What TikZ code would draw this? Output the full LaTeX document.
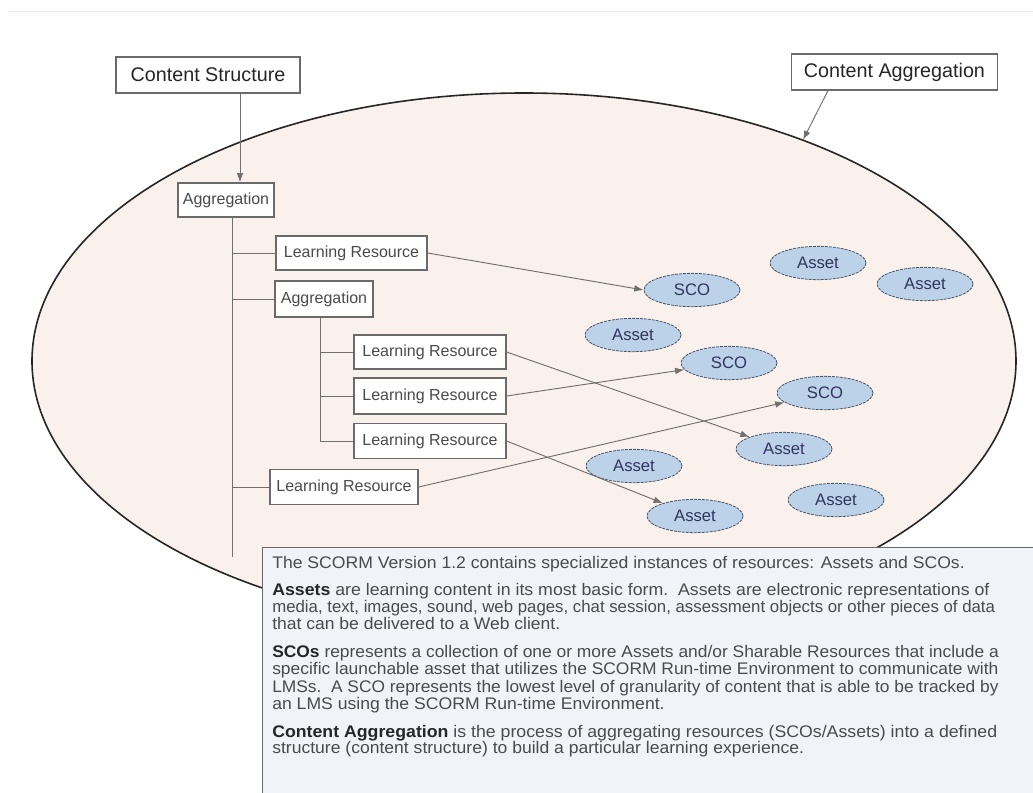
\documentclass[tikz,border=0pt]{standalone}
\usepackage{graphicx}
\usepackage{fontspec}
\setmainfont{Liberation Sans}
\usetikzlibrary{arrows.meta,shapes.geometric}
\definecolor{ellfill}{HTML}{FBF1EC}
\definecolor{bluefill}{HTML}{BCD2E8}
\definecolor{blueline}{HTML}{4A5568}
\definecolor{boxfill}{HTML}{F0F4F8}
\definecolor{boxline}{HTML}{6A6A6A}
\definecolor{linegray}{HTML}{707070}
\definecolor{txtgray}{HTML}{4A4A4A}
\newcommand{\wide}[2]{\scalebox{#1}[1]{#2}}
\begin{document}
\begin{tikzpicture}[x=0.75pt,y=-0.75pt,
  rbox/.style={draw=boxline, fill=white, line width=0.9pt, inner sep=0pt, text=txtgray,
    font=\fontsize{12pt}{14pt}\selectfont},
  bigbox/.style={rbox, text=black!85, font=\fontsize{14.8pt}{16pt}\selectfont, minimum height=27pt},
  lrbox/.style={rbox, minimum width=114pt, minimum height=25.5pt},
  blob/.style={ellipse, draw=blueline, dash pattern=on 2.2pt off 0.8pt, line width=0.6pt,
    fill=bluefill, inner sep=0pt, minimum width=72pt, minimum height=25pt,
    text=black!70!blue!60!gray, font=\fontsize{12.5pt}{14pt}\selectfont},
  conn/.style={draw=linegray, line width=0.7pt},
  arr/.style={conn, -{Latex[length=7pt,width=5pt]}},
  desc/.style={anchor=base west, inner sep=0pt, text=txtgray, font=\fontsize{12.6pt}{13pt}\selectfont}
]
\useasboundingbox (0,0) rectangle (1033,793);
\fill[white] (0,0) rectangle (1033,793);
\draw[black!8, line width=0.6pt] (8,11) -- (1033,11);

% big ellipse
\draw[fill=ellfill, draw=black!85, line width=1.2pt] (524,361) ellipse [x radius=369pt, y radius=201pt];

% top labels
\node[bigbox, minimum width=138pt] (cs) at (208,75) {Content Structure};
\node[bigbox, minimum width=154.5pt] (ca) at (894.5,72) {Content Aggregation};
\coordinate (catip) at (803,140);

% tree boxes
\node[rbox, minimum width=72pt, minimum height=25.5pt] (agg1) at (226,200) {Aggregation};
\node[lrbox, minimum width=113.25pt] (lr1) at (351.5,253) {Learning Resource};
\node[rbox, minimum width=73.5pt, minimum height=27pt] (agg2) at (324,299) {Aggregation};
\node[lrbox] (lr2) at (430,352) {Learning Resource};
\node[lrbox, minimum height=27pt] (lr3) at (430,396) {Learning Resource};
\node[lrbox, minimum height=26pt] (lr4) at (430,441) {Learning Resource};
\node[lrbox, minimum width=111pt, minimum height=26pt] (lr5) at (344,487) {Learning Resource};
\coordinate (trunkend) at (232,557);

% SCOs and Assets
\node[blob] (sco1) at (692,290) {SCO};
\node[blob] (sco2) at (729,363) {SCO};
\node[blob] (sco3) at (825,393) {SCO};
\node[blob] (a1) at (818,263) {Asset};
\node[blob] (a2) at (925,284) {Asset};
\node[blob] (a3) at (633,335) {Asset};
\node[blob] (a4) at (784,449) {Asset};
\node[blob] (a5) at (634,466) {Asset};
\node[blob] (a6) at (836,500) {Asset};
\node[blob] (a7) at (695,516) {Asset};

% arrows from labels
\draw[arr] ([xshift=24pt]cs.south) -- ([xshift=10.5pt]agg1.north);
\draw[arr] ([xshift=-49.9pt]ca.south) -- (catip);

% tree connectors
\draw[conn] ([xshift=4.5pt]agg1.south) -- (trunkend);
\draw[conn] (trunkend |- lr1.west) -- (lr1.west);
\draw[conn] (trunkend |- agg2.west) -- (agg2.west);
\draw[conn] (trunkend |- lr5.west) -- (lr5.west);
\draw[conn] ([xshift=-3pt]agg2.south) |- (lr4.west);
\draw[conn] ([xshift=-3pt]agg2.south |- lr2.west) -- (lr2.west);
\draw[conn] ([xshift=-3pt]agg2.south |- lr3.west) -- (lr3.west);

% resource arrows
\draw[arr] (lr1.east) -- (sco1.west);
\draw[arr] (lr2.east) -- (a4);
\draw[arr] (lr3.east) -- (sco2);
\draw[arr] (lr4.east) -- (a7);
\draw[arr] (lr5.east) -- (sco3);

% description box
\node[draw=boxline, fill=boxfill, line width=0.8pt, anchor=north west, inner sep=0pt,
  minimum width=700pt, minimum height=260pt] (descbox) at (262,547) {};
\node[desc] (t1) at (272,568) {\wide{1.048}{The SCORM Version 1.2 contains specialized instances of resources: Assets and SCOs.}};
\node[desc] (t2) at (272,595) {\wide{1.055}{\textcolor{black!85}{\textbf{Assets}} are learning content in its most basic form.\ \ Assets are electronic representations of}};
\node[desc] (t3) at (272,612) {\wide{1.0}{media, text, images, sound, web pages, chat session, assessment objects or other pieces of data}};
\node[desc] (t4) at (272,629) {\wide{1.043}{that can be delivered to a Web client.}};
\node[desc] (t5) at (272,657) {\wide{1.036}{\textcolor{black!85}{\textbf{SCOs}} represents a collection of one or more Assets and/or Sharable Resources that include a}};
\node[desc] (t6) at (272,674) {\wide{1.037}{specific launchable asset that utilizes the SCORM Run-time Environment to communicate with}};
\node[desc] (t7) at (272,692) {\wide{1.033}{LMSs.\ \ A SCO represents the lowest level of granularity of content that is able to be tracked by}};
\node[desc] (t8) at (272,709) {\wide{1.048}{an LMS using the SCORM Run-time Environment.}};
\node[desc] (t9) at (272,737) {\wide{1.055}{\textcolor{black!85}{\textbf{Content Aggregation}} is the process of aggregating resources (SCOs/Assets) into a defined}};
\node[desc] (t10) at (272,753) {\wide{1.045}{structure (content structure) to build a particular learning experience.}};
\end{tikzpicture}
\end{document}
